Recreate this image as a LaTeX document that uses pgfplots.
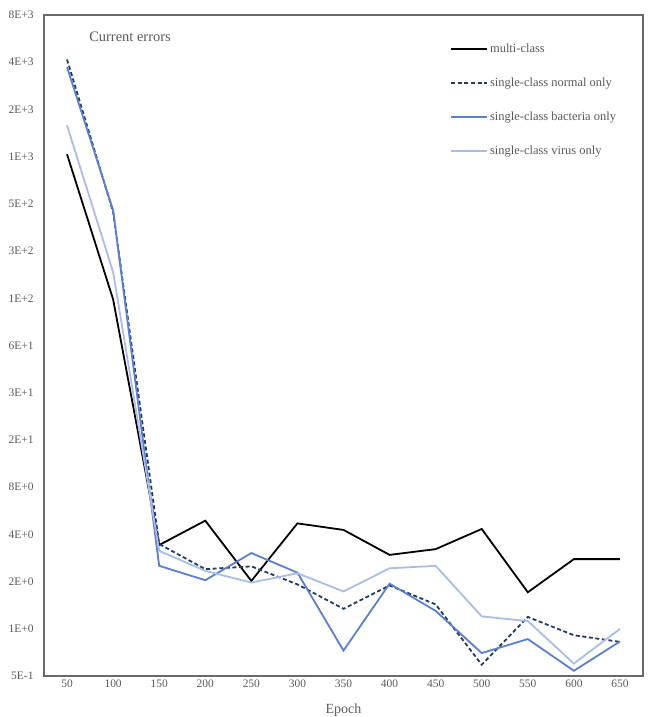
\documentclass[border=0pt]{standalone}
\usepackage{fontspec}
\setmainfont{Liberation Serif}
\usepackage{pgfplots}
\pgfplotsset{compat=1.18}
\definecolor{txtgray}{RGB}{89,89,89}
\definecolor{axgray}{RGB}{105,105,105}
\definecolor{navy}{RGB}{31,56,100}
\definecolor{midblue}{RGB}{92,126,206}
\definecolor{lightblue}{RGB}{170,188,232}
\begin{document}
\begin{tikzpicture}
\useasboundingbox (-44bp,-41bp) rectangle (604bp,676bp);
\begin{axis}[
  scale only axis, width=599bp, height=661bp,
  at={(0,0)}, anchor=south west,
  xmin=25, xmax=675,
  ymode=log, log basis y=2, ymin=0.5, ymax=8192,
  xtick={50,100,...,650},
  ytick={0.5,1,2,4,8,16,32,64,128,256,512,1024,2048,4096,8192},
  yticklabels={5E-1,1E+0,2E+0,4E+0,8E+0,2E+1,3E+1,6E+1,1E+2,3E+2,5E+2,1E+3,2E+3,4E+3,8E+3},
  /pgf/number format/assume math mode=true,
  tick style={draw=none},
  axis line style={axgray, line width=1.2bp},
  ticklabel style={font=\fontsize{11.5}{13}\selectfont, text=txtgray},
  yticklabel style={xshift=-7bp},
  xticklabel style={yshift=-0.5bp},
  xlabel={Epoch},
  xlabel style={font=\fontsize{14}{17}\selectfont, text=txtgray, at={(axis description cs:0.5,0)}, anchor=center, yshift=-34bp},
  legend style={draw=none, fill=none, at={(0.678,0.960)}, anchor=north west,
    font=\fontsize{12.5}{15}\selectfont, text=txtgray, row sep=20bp, inner sep=0pt,
    nodes={inner sep=2bp}},
  legend cell align=left,
  legend image code/.code={\path (0bp,0bp) -- (36bp,0bp); \draw[#1] (0bp,0bp) -- (32bp,0bp);},
]
\addplot[black, line width=1.8bp] coordinates {
 (50,1060) (100,126) (150,3.42) (200,4.89) (250,2.02) (300,4.70) (350,4.27)
 (400,2.96) (450,3.22) (500,4.33) (550,1.71) (600,2.78) (650,2.78)};
\addlegendentry{multi-class}
\addplot[navy, line width=1.8bp, dash pattern=on 4bp off 2.6bp] coordinates {
 (50,4260) (100,455) (150,3.47) (200,2.40) (250,2.50) (300,1.92) (350,1.34)
 (400,1.89) (450,1.43) (500,0.59) (550,1.19) (600,0.91) (650,0.825)};
\addlegendentry{single-class normal only}
\addplot[midblue, line width=1.8bp] coordinates {
 (50,3806) (100,467) (150,2.52) (200,2.04) (250,3.04) (300,2.28) (350,0.726)
 (400,1.94) (450,1.30) (500,0.70) (550,0.86) (600,0.54) (650,0.83)};
\addlegendentry{single-class bacteria only}
\addplot[lightblue, line width=1.8bp] coordinates {
 (50,1620) (100,188) (150,3.14) (200,2.34) (250,1.97) (300,2.26) (350,1.73)
 (400,2.43) (450,2.52) (500,1.20) (550,1.12) (600,0.60) (650,1.0)};
\addlegendentry{single-class virus only}
\node[font=\fontsize{14.5}{17}\selectfont, text=txtgray] at (rel axis cs:0.1436,0.967) {Current errors};
\end{axis}
\end{tikzpicture}
\end{document}
